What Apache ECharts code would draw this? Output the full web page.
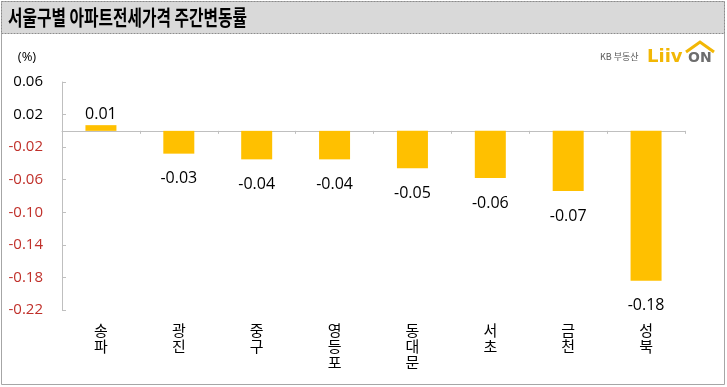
<!DOCTYPE html>
<html><head><meta charset="utf-8">
<script src="https://cdn.jsdelivr.net/npm/echarts@6/dist/echarts.min.js"></script>
<style>html,body{margin:0;padding:0;background:#fff}#c{width:727px;height:387px}</style>
</head><body><div id="c"></div>
<script>
const titleText = '서울구별 아파트전세가격 주간변동률';
const unitText = '(%)';
const categories = ['송파','광진','중구','영등포','동대문','서초','금천','성북'];
const values = [0.007, -0.028, -0.035, -0.035, -0.046, -0.058, -0.074, -0.184];
const yTicks = [-0.22, -0.18, -0.14, -0.10, -0.06, -0.02, 0.02, 0.06];

const FONT = '"Open Sans","Noto Sans CJK KR",sans-serif';
const KFONT = '"Noto Sans CJK KR","Noto Sans",sans-serif';

const chart = echarts.init(document.getElementById('c'), null, {renderer:'canvas'});
chart.setOption({
  animation:false,
  backgroundColor:'#fff',
  grid:{left:62, right:42, top:82, bottom:77},
  graphic:[
    {type:'rect', shape:{x:1.5,y:1.5,width:723,height:383}, style:{fill:'none', stroke:'#a6a6a6', lineWidth:1}, z:1},
    {type:'rect', shape:{x:1.5,y:1.5,width:723,height:32}, style:{fill:'#d9d9d9', stroke:'#8c8c8c', lineWidth:1, lineDash:[2,1]}, z:2},
    {type:'text', x:8, y:17, scaleX:0.75, style:{text:titleText, font:'bold 21px '+KFONT, fill:'#000', verticalAlign:'middle'}, z:3},
    {type:'text', x:27, y:57, style:{text:unitText, font:'13px '+FONT, fill:'#000', align:'center', verticalAlign:'middle'}, z:3},
    {type:'text', x:600, y:57, style:{text:'KB 부동산', font:'9px '+KFONT, fill:'#555', verticalAlign:'middle'}, z:3},
    {type:'text', x:647, y:57, style:{text:'Liiv', font:'bold 18px "DejaVu Sans",sans-serif', fill:'#f2b705', verticalAlign:'middle'}, z:3},
    {type:'text', x:688, y:58, style:{text:'ON', font:'bold 14px "DejaVu Sans",sans-serif', fill:'#6d6d6d', verticalAlign:'middle'}, z:3},
    {type:'polyline', shape:{points:[[686,52],[700,42],[714,52]]}, style:{stroke:'#f2b705', lineWidth:3, fill:'none'}, z:3}
  ],
  xAxis:[
    {type:'category', data:categories, position:'top', boundaryGap:true,
     axisLine:{onZero:true, lineStyle:{color:'#bfbfbf', width:1}},
     axisTick:{show:true, inside:true, length:3, lineStyle:{color:'#bfbfbf'}},
     axisLabel:{show:false}},
    {type:'category', data:categories, position:'bottom', boundaryGap:true,
     axisLine:{show:false, onZero:false}, axisTick:{show:false},
     axisLabel:{margin:12, fontFamily:KFONT, fontSize:15, lineHeight:16, color:'#000', interval:0,
       formatter:(v)=>v.split('').join('\n')}}
  ],
  yAxis:{type:'value', min:-0.22, max:0.06,
    axisLine:{show:true, lineStyle:{color:'#bfbfbf'}},
    axisTick:{show:true, inside:true, length:4, lineStyle:{color:'#bfbfbf'}, customValues:yTicks},
    splitLine:{show:false},
    axisLabel:{customValues:yTicks, margin:19, fontFamily:FONT, fontSize:15,
      formatter:(v)=>Number(v).toFixed(2),
      color:(v)=> Number(v) < 0 ? '#c0302a' : '#000'}},
  series:[{
    type:'bar', xAxisIndex:0, barWidth:31,
    itemStyle:{color:'#ffc000'},
    data: values.map(v=>({value:v, label:{position: v>=0?'top':'bottom', distance: v>=0?3:17}})),
    label:{show:true, fontFamily:FONT, fontSize:16, color:'#000', formatter:(p)=>p.value.toFixed(2)}
  }]
});
</script></body></html>
